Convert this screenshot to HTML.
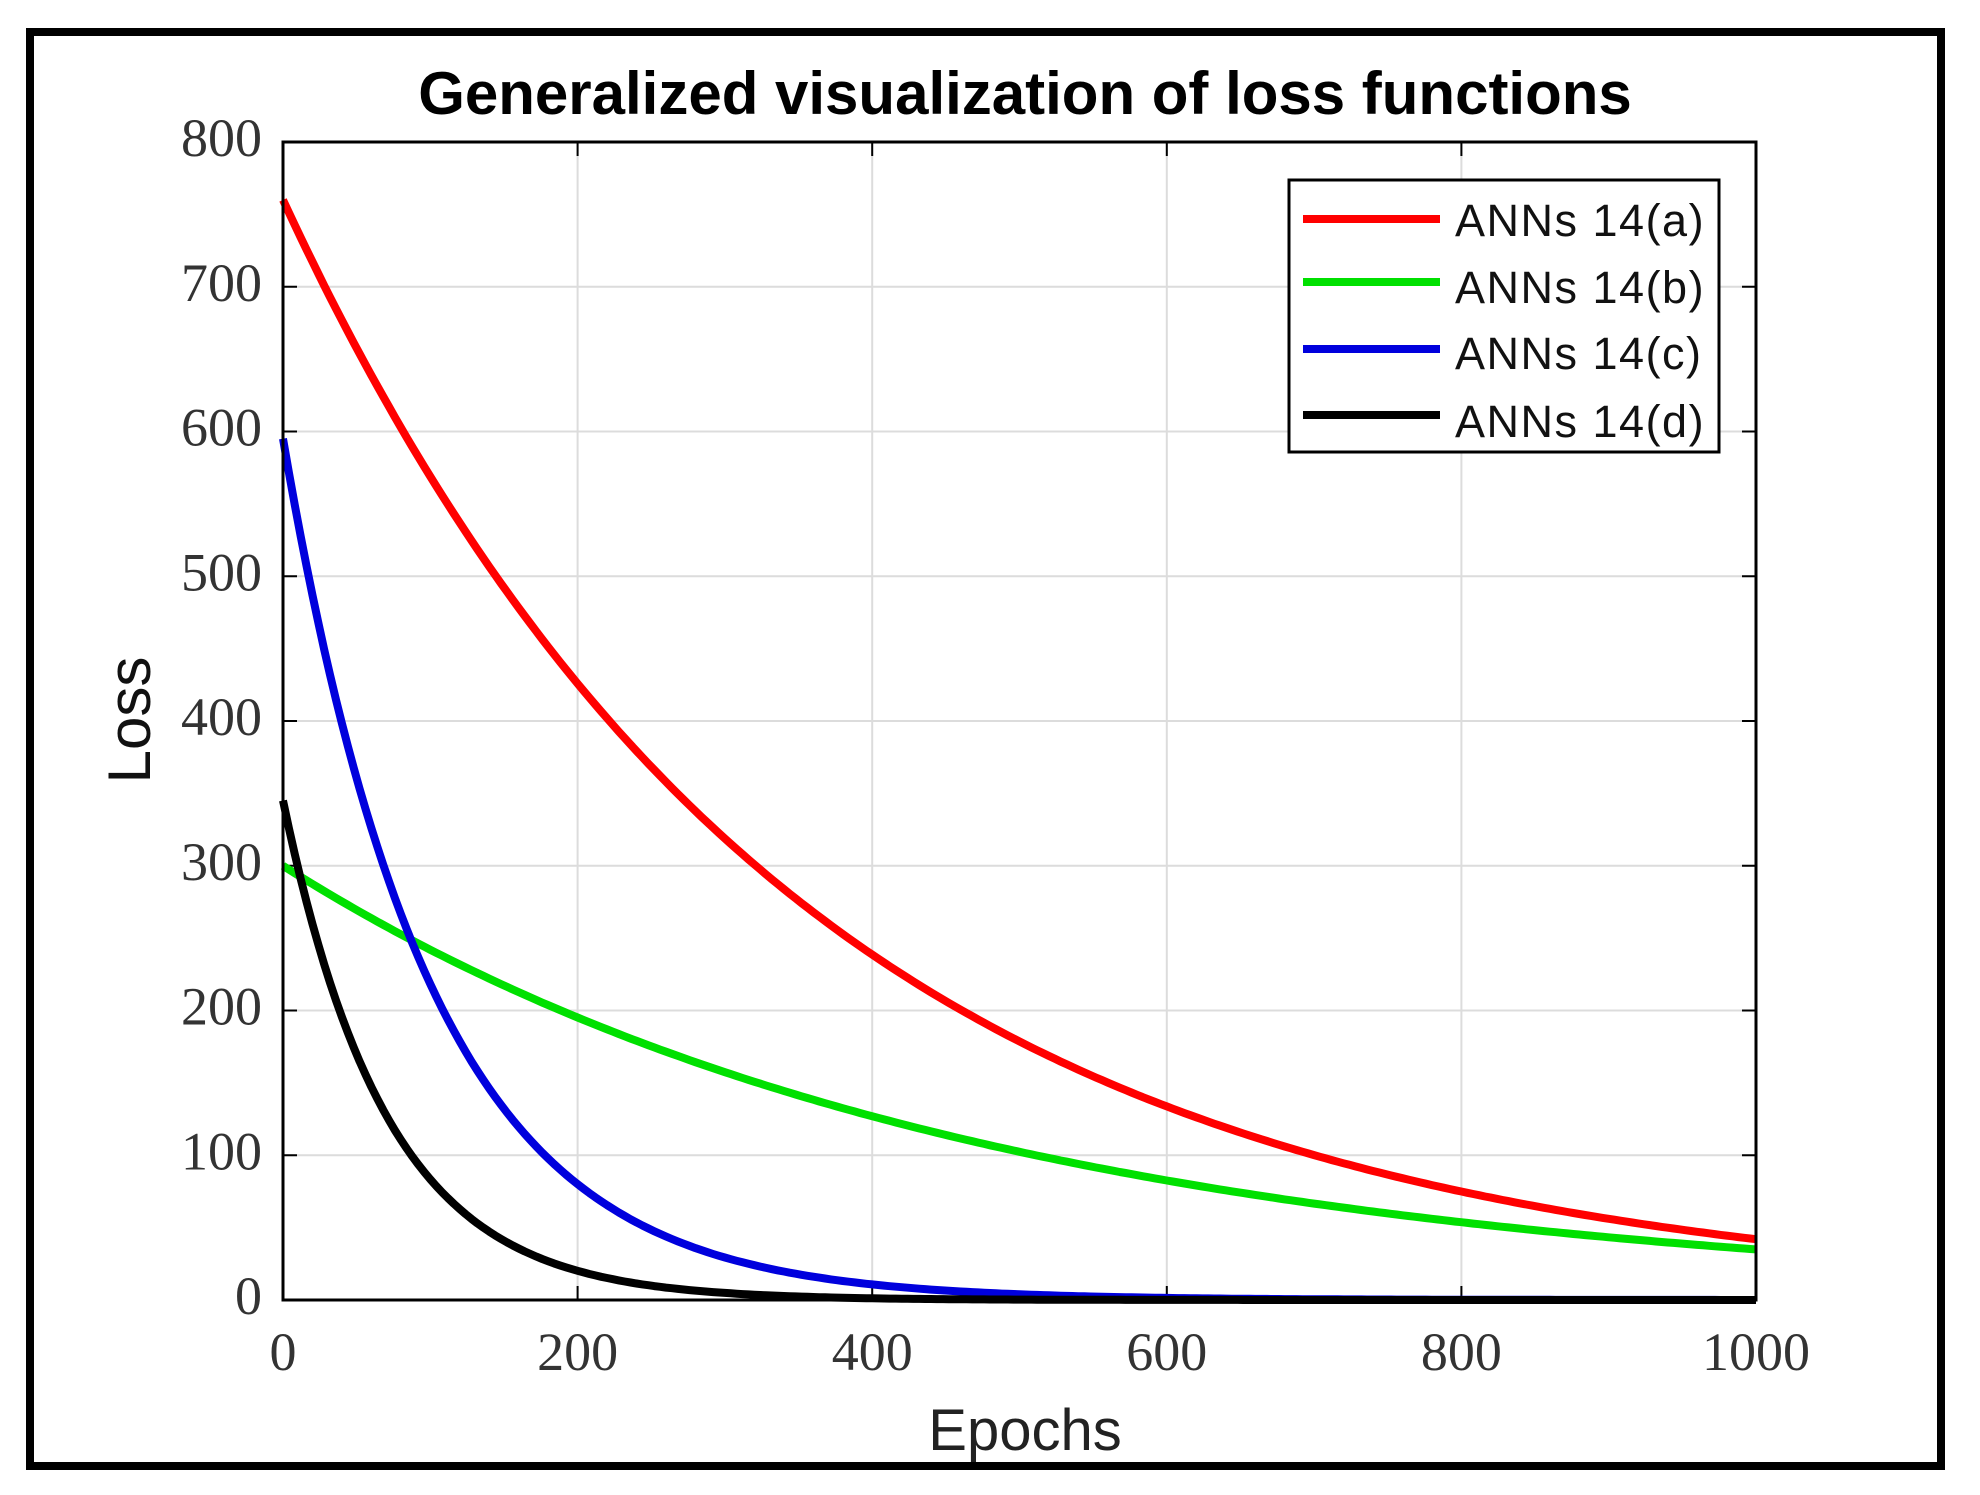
<!DOCTYPE html>
<html><head><meta charset="utf-8"><style>
html,body{margin:0;padding:0;background:#fff;}
svg{display:block;}
</style></head><body>
<svg id="s" width="1980" height="1495" xmlns="http://www.w3.org/2000/svg">
<rect x="0" y="0" width="1980" height="1495" fill="#fff"/>
<rect x="30" y="32" width="1911" height="1434" fill="none" stroke="#000" stroke-width="8"/>
<text x="1025" y="114" text-anchor="middle" font-family="Liberation Sans, sans-serif" font-weight="bold" font-size="60" fill="#000">Generalized visualization of loss functions</text>
<g id="grid" stroke="#dcdcdc" stroke-width="2"></g>
<g id="ticks" stroke="#000" stroke-width="2"></g>
<g id="lbl" font-family="Liberation Serif, serif" font-size="54" fill="#333"></g>
<g id="curves" fill="none" stroke-width="8" stroke-linejoin="round"></g>
<rect x="283" y="142" width="1473" height="1158" fill="none" stroke="#000" stroke-width="3"/>
<rect x="1289" y="180" width="430" height="272" fill="#fff" stroke="#000" stroke-width="3"/>
<line x1="1303" y1="219" x2="1440" y2="219" stroke="#ff0000" stroke-width="8"/>
<line x1="1303" y1="282" x2="1440" y2="282" stroke="#00e000" stroke-width="8"/>
<line x1="1303" y1="349" x2="1440" y2="349" stroke="#0000dd" stroke-width="8"/>
<line x1="1303" y1="415" x2="1440" y2="415" stroke="#000" stroke-width="8"/>
<g font-family="Liberation Sans, sans-serif" font-size="45" fill="#111" letter-spacing="1.5">
<text x="1455" y="236">ANNs 14(a)</text>
<text x="1455" y="303">ANNs 14(b)</text>
<text x="1455" y="369">ANNs 14(c)</text>
<text x="1455" y="437">ANNs 14(d)</text>
</g>
<text x="1025" y="1450" text-anchor="middle" font-family="Liberation Sans, sans-serif" font-size="58" fill="#222">Epochs</text>
<text transform="translate(150,720) rotate(-90)" text-anchor="middle" font-family="Liberation Sans, sans-serif" font-size="60" fill="#111">Loss</text>
</svg>
<script>
var NS="http://www.w3.org/2000/svg";
function X(v){return 283+v*1.473;}
function Y(v){return 1300-v*1.4475;}
function el(p,t,a){var e=document.createElementNS(NS,t);for(var k in a)e.setAttribute(k,a[k]);p.appendChild(e);return e;}
var g=document.getElementById('grid'),tk=document.getElementById('ticks'),lb=document.getElementById('lbl');
for(var i=0;i<=5;i++){var x=X(i*200);
 if(i>0&&i<5)el(g,'line',{x1:x,y1:142,x2:x,y2:1300});
 el(tk,'line',{x1:x,y1:1300,x2:x,y2:1286});el(tk,'line',{x1:x,y1:142,x2:x,y2:156});
 var t=el(lb,'text',{x:x,y:1370,'text-anchor':'middle'});t.textContent=String(i*200);}
for(var j=0;j<=8;j++){var y=Y(j*100);
 if(j>0&&j<8)el(g,'line',{x1:283,y1:y,x2:1756,y2:y});
 el(tk,'line',{x1:283,y1:y,x2:297,y2:y});el(tk,'line',{x1:1756,y1:y,x2:1742,y2:y});
 var t=el(lb,'text',{x:262,y:y+14,'text-anchor':'end'});t.textContent=String(j*100);}
var c=document.getElementById('curves');
var S=[[300,0.00215,'#00e000'],[760,0.002896,'#ff0000'],[595,0.01003,'#0000dd'],[345,0.0142,'#000']];
S.forEach(function(s){var d='';for(var e=0;e<=1000;e+=4){d+=(e?'L':'M')+X(e).toFixed(1)+','+Y(s[0]*Math.exp(-s[1]*e)).toFixed(1);}
 el(c,'path',{d:d,stroke:s[2]});});
</script>
</body></html>
